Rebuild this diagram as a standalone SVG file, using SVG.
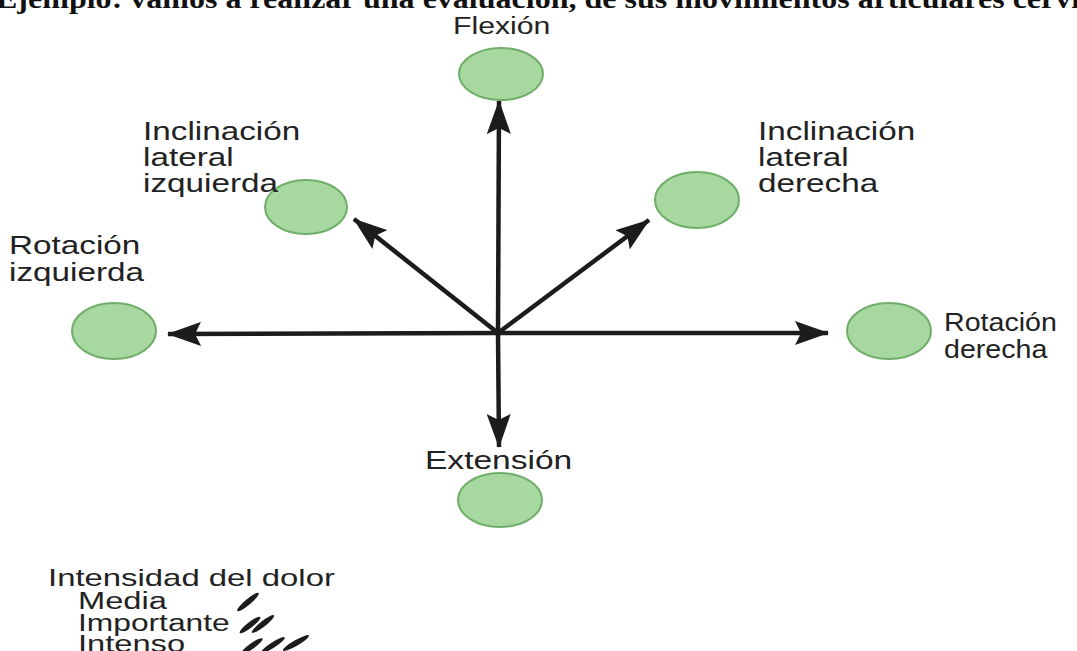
<svg xmlns="http://www.w3.org/2000/svg" width="1077" height="651" viewBox="0 0 1077 651">
  <style>
    .lbl { font-family: "Liberation Sans", Arial, sans-serif; font-size: 26px; fill: #222222; }
    .leg { font-family: "Liberation Sans", Arial, sans-serif; font-size: 23px; fill: #222222; }
    .head { font-family: "Liberation Serif", "Times New Roman", serif; font-size: 27px; font-weight: bold; fill: #111; }
    .node { fill: #a6d8a0; stroke: #6fae68; stroke-width: 2; }
    .axis { stroke: #1c1c1c; stroke-width: 4.5; fill: none; }
    .mark { fill: #1c1c1c; }
  </style>
  <defs>
    <marker id="arr" viewBox="0 0 34 24" markerUnits="userSpaceOnUse" markerWidth="34" markerHeight="24" refX="33" refY="12" orient="auto">
      <path d="M0,0 L34,12 L0,24 L6,12 Z" fill="#1c1c1c"/>
    </marker>
  </defs>
  <rect width="1077" height="651" fill="#ffffff"/>

  <text class="head" x="-4" y="8" textLength="1150" lengthAdjust="spacingAndGlyphs">Ejemplo: vamos a realizar una evaluación, de sus movimientos articulares cervicales</text>

  <g id="connectors">
    <line class="axis" x1="498" y1="333" x2="499" y2="101" marker-end="url(#arr)"/>
    <line class="axis" x1="498" y1="333" x2="499" y2="447" marker-end="url(#arr)"/>
    <line class="axis" x1="498" y1="333" x2="168" y2="334" marker-end="url(#arr)"/>
    <line class="axis" x1="498" y1="333" x2="828" y2="333" marker-end="url(#arr)"/>
    <line class="axis" x1="498" y1="333" x2="354" y2="219" marker-end="url(#arr)"/>
    <line class="axis" x1="498" y1="333" x2="649" y2="220" marker-end="url(#arr)"/>
  </g>

  <g id="flexion">
    <ellipse class="node" cx="501" cy="74" rx="42" ry="26"/>
    <text class="lbl" transform="translate(453,34) scale(1.26,1)" style="font-size:24px">Flexión</text>
  </g>

  <g id="inclinacion-izquierda">
    <text class="lbl" transform="translate(143,140) scale(1.28,1)">Inclinación</text>
    <text class="lbl" transform="translate(143,166) scale(1.28,1)">lateral</text>
    <ellipse class="node" cx="306" cy="207" rx="41" ry="27"/>
    <text class="lbl" transform="translate(143,192) scale(1.28,1)">izquierda</text>
  </g>

  <g id="inclinacion-derecha">
    <ellipse class="node" cx="697" cy="200" rx="42" ry="28"/>
    <text class="lbl" transform="translate(758,140) scale(1.28,1)">Inclinación</text>
    <text class="lbl" transform="translate(758,166) scale(1.28,1)">lateral</text>
    <text class="lbl" transform="translate(758,192) scale(1.28,1)">derecha</text>
  </g>

  <g id="rotacion-izquierda">
    <ellipse class="node" cx="114" cy="331" rx="42" ry="28"/>
    <text class="lbl" transform="translate(9,254) scale(1.28,1)">Rotación</text>
    <text class="lbl" transform="translate(9,281) scale(1.28,1)">izquierda</text>
  </g>

  <g id="rotacion-derecha">
    <ellipse class="node" cx="889" cy="331" rx="42" ry="28"/>
    <text class="lbl" transform="translate(944,331) scale(1.1,1)">Rotación</text>
    <text class="lbl" transform="translate(944,358) scale(1.1,1)">derecha</text>
  </g>

  <g id="extension">
    <text class="lbl" transform="translate(425,469) scale(1.29,1)">Extensión</text>
    <ellipse class="node" cx="500" cy="500" rx="42" ry="27"/>
  </g>

  <g id="leyenda">
    <text class="leg" transform="translate(48,586) scale(1.43,1)">Intensidad del dolor</text>
    <text class="leg" transform="translate(78,609) scale(1.42,1)">Media</text>
    <text class="leg" transform="translate(78,631) scale(1.38,1)">Importante</text>
    <text class="leg" transform="translate(78,652) scale(1.42,1)">Intenso</text>
    <ellipse class="mark" cx="248" cy="602" rx="14" ry="2.8" transform="rotate(-40 248 602)"/>
    <ellipse class="mark" cx="250" cy="625" rx="13" ry="2.8" transform="rotate(-38 250 625)"/>
    <ellipse class="mark" cx="263" cy="624" rx="14" ry="2.8" transform="rotate(-38 263 624)"/>
    <ellipse class="mark" cx="252" cy="646" rx="13" ry="2.8" transform="rotate(-35 252 646)"/>
    <ellipse class="mark" cx="273" cy="645" rx="14" ry="2.8" transform="rotate(-33 273 645)"/>
    <ellipse class="mark" cx="296" cy="643" rx="15" ry="2.8" transform="rotate(-30 296 643)"/>
  </g>
</svg>
